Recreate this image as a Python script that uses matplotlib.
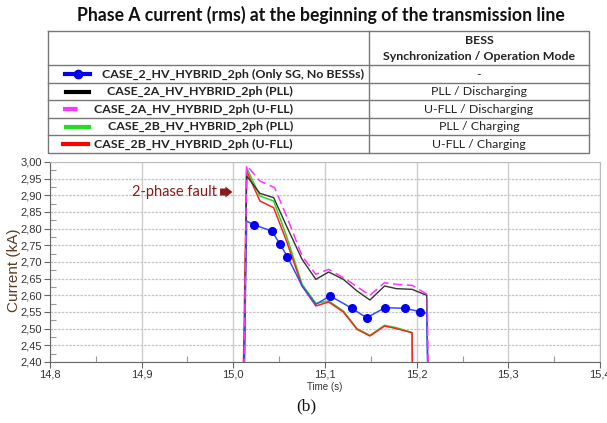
import matplotlib
matplotlib.use("Agg")
import matplotlib.pyplot as plt
from matplotlib.ticker import MultipleLocator, FuncFormatter

# phase A rms current (kA) vs time (s) for each case
t_sg = [15.0115, 15.0145, 15.022, 15.042, 15.051, 15.059, 15.075, 15.090, 15.1055,
        15.120, 15.129, 15.1455, 15.1655, 15.1875, 15.2036, 15.211, 15.2125]
i_sg = [2.30, 2.823, 2.812, 2.793, 2.753, 2.716, 2.628, 2.573, 2.598,
        2.576, 2.561, 2.533, 2.563, 2.561, 2.551, 2.546, 2.30]
sg_marks = [2, 3, 4, 5, 8, 10, 11, 12, 13, 14]

t_2a_pll = [15.0115, 15.0145, 15.029, 15.044, 15.058, 15.075, 15.090, 15.104,
            15.120, 15.135, 15.149, 15.165, 15.178, 15.195, 15.211, 15.2125]
i_2a_pll = [2.30, 2.958, 2.906, 2.893, 2.808, 2.708, 2.648, 2.670,
            2.648, 2.613, 2.586, 2.628, 2.620, 2.618, 2.600, 2.30]

t_2a_ufll = [15.0115, 15.0145, 15.029, 15.045, 15.058, 15.075, 15.090, 15.104,
             15.120, 15.135, 15.149, 15.165, 15.178, 15.195, 15.2115, 15.213]
i_2a_ufll = [2.30, 2.990, 2.943, 2.923, 2.838, 2.718, 2.663, 2.678,
             2.653, 2.626, 2.600, 2.638, 2.633, 2.630, 2.603, 2.30]

t_2b_pll = [15.0115, 15.0145, 15.029, 15.044, 15.058, 15.075, 15.090, 15.104,
            15.120, 15.135, 15.149, 15.165, 15.178, 15.195, 15.1955]
i_2b_pll = [2.30, 2.983, 2.898, 2.883, 2.778, 2.633, 2.576, 2.583,
            2.553, 2.500, 2.480, 2.510, 2.503, 2.488, 2.30]

t_2b_ufll = [15.0105, 15.0145, 15.029, 15.044, 15.058, 15.075, 15.090, 15.104,
             15.120, 15.135, 15.149, 15.165, 15.178, 15.195, 15.1955]
i_2b_ufll = [2.30, 2.973, 2.883, 2.863, 2.763, 2.628, 2.568, 2.580,
             2.550, 2.498, 2.478, 2.508, 2.500, 2.488, 2.30]

case_names = ["CASE_2_HV_HYBRID_2ph (Only SG, No BESSs)",
              "CASE_2A_HV_HYBRID_2ph (PLL)",
              "CASE_2A_HV_HYBRID_2ph (U-FLL)",
              "CASE_2B_HV_HYBRID_2ph (PLL)",
              "CASE_2B_HV_HYBRID_2ph (U-FLL)"]
case_modes = ["-", "PLL / Discharging", "U-FLL / Discharging",
              "PLL / Charging", "U-FLL / Charging"]

W, H = 607, 423
fig = plt.figure(figsize=(W / 100, H / 100), dpi=100)

# ---- plot area ----
ax = fig.add_axes([50 / W, 1 - 362 / H, 550 / W, 200 / H])
ax.set_xlim(14.8, 15.4)
ax.set_ylim(2.40, 3.00)

ax.plot(t_2b_pll, i_2b_pll, color="#22dd22", lw=1.1, zorder=3)
ax.plot(t_2b_ufll, i_2b_ufll, color="#ff2222", lw=1.1, zorder=3)
ax.plot(t_2a_pll, i_2a_pll, color="#333333", lw=1.0, zorder=3)
ax.plot(t_sg, i_sg, color="#3050ff", lw=1.1, marker="o", markersize=5.5,
        markerfacecolor="#0000ee", markeredgecolor="#0000ee",
        markevery=sg_marks, zorder=4)
ax.plot(t_2a_ufll, i_2a_ufll, color="#ff33ff", lw=1.1, dashes=(6, 3), zorder=5)

comma = FuncFormatter(lambda v, p: ("%.1f" % v).replace(".", ","))
comma2 = FuncFormatter(lambda v, p: ("%.2f" % v).replace(".", ","))
ax.xaxis.set_major_locator(MultipleLocator(0.1))
ax.xaxis.set_minor_locator(MultipleLocator(0.05))
ax.yaxis.set_major_locator(MultipleLocator(0.05))
ax.yaxis.set_minor_locator(MultipleLocator(0.025))
ax.xaxis.set_major_formatter(comma)
ax.yaxis.set_major_formatter(comma2)

ax.tick_params(which="major", length=4, width=0.8, color="#666666",
               labelsize=8, labelcolor="#333333", pad=1.5)
ax.tick_params(which="minor", direction="in", length=4, width=0.8, color="#999999")
for lab in ax.get_xticklabels() + ax.get_yticklabels():
    lab.set_fontfamily("Liberation Sans")

ax.grid(True, axis="x", which="major", color="#cccccc", lw=1.0)
ax.grid(True, axis="y", which="major", color="#c4c4c4", lw=0.9, linestyle=(0, (2, 1)))
ax.set_axisbelow(True)
for side in ["left", "bottom"]:
    ax.spines[side].set_color("#666666")
for side in ["top", "right"]:
    ax.spines[side].set_color("#bbbbbb")

ax.set_ylabel("Current (kA)", fontsize=11, color="#5c3d1e", family="Liberation Sans")
ax.yaxis.set_label_coords(-29 / 550, 0.46)
ax.set_xlabel("Time (s)", fontsize=7, color="#333333",
              family="Liberation Sans", labelpad=1.5)

ax.text(14.982, 2.91, "2-phase fault", color="#8b1a1a", fontsize=10.5,
        family="Lato", ha="right", va="center")
ax.annotate("", xy=(14.999, 2.91), xytext=(14.9855, 2.91),
            arrowprops=dict(arrowstyle="simple,head_width=0.8,head_length=0.5,tail_width=0.5",
                            color="#8b1a1a", lw=0, shrinkA=0, shrinkB=0))

# ---- title, legend table and caption drawn in pixel space ----
ov = fig.add_axes([0, 0, 1, 1], zorder=-1)
ov.set_xlim(0, W)
ov.set_ylim(H, 0)
ov.axis("off")

ov.text(321, 15, "Phase A current (rms) at the beginning of the transmission line",
        ha="center", va="center", fontsize=12.7, fontweight="bold", family="Lato",
        color="#111111")

x0, xm, x1 = 48, 369, 589
rows = [31, 65.5, 83, 100.5, 118, 135.5, 153]
line_kw = dict(color="#777777", lw=1.0)
ov.plot([x0, x1, x1, x0, x0], [rows[0], rows[0], rows[-1], rows[-1], rows[0]], **line_kw)
ov.plot([xm, xm], [rows[0], rows[-1]], **line_kw)
for y in rows[1:-1]:
    ov.plot([x0, x1], [y, y], **line_kw)

ov.text((xm + x1) / 2, 41, "BESS", ha="center", va="center",
        fontsize=8.9, fontweight="bold", family="Lato", color="#222222")
ov.text((xm + x1) / 2, 57, "Synchronization / Operation Mode", ha="center", va="center",
        fontsize=8.9, fontweight="bold", family="Lato", color="#222222")

sample_styles = [dict(color="#0000ee", lw=3, marker="o", markersize=6),
                 dict(color="#000000", lw=3),
                 dict(color="#ff33ff", lw=3, dashes=(3.5, 2.5)),
                 dict(color="#22dd22", lw=3),
                 dict(color="#ff0000", lw=3)]
sample_x = [(65, 90), (66, 89), (63, 88), (66, 89), (63, 88)]
name_right = [364, 293, 293, 293, 293]
for k in range(5):
    yc = (rows[k + 1] + rows[k + 2]) / 2
    xa, xb = sample_x[k]
    st = dict(sample_styles[k])
    if "marker" in st:
        ov.plot([xa, xb], [yc, yc], color=st["color"], lw=st["lw"])
        ov.plot([(xa + xb) / 2], [yc], "o", color=st["color"], markersize=st["markersize"])
    else:
        ov.plot([xa, xb], [yc, yc], **st)
    ov.text(name_right[k], yc, case_names[k], ha="right", va="center",
            fontsize=8.9, fontweight="bold", family="Lato", color="#222222")
    ov.text((xm + x1) / 2, yc, case_modes[k], ha="center", va="center",
            fontsize=8.9, family="Lato", color="#222222")

ov.text(306, 406, "(b)", ha="center", va="center", fontsize=12.5,
        family="Liberation Serif", color="#111111")

fig.savefig("out.png", dpi=100)
